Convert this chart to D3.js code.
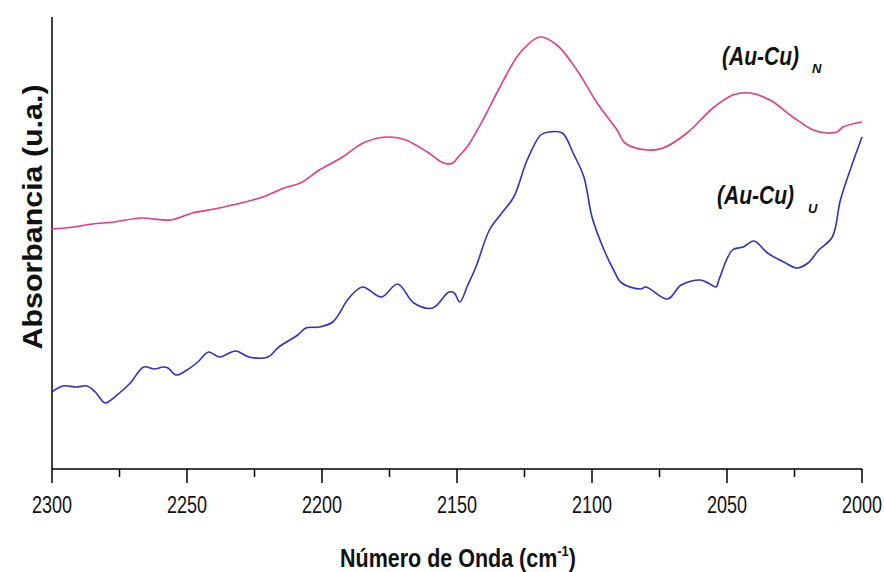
<!DOCTYPE html>
<html><head><meta charset="utf-8">
<script src="https://cdn.jsdelivr.net/npm/d3@7"></script>
<style>
body{margin:0;background:#fff;}
svg{display:block;}
</style></head>
<body>
<svg id="chart" width="884" height="572"></svg>
<script>
// Wavenumbers (cm^-1) and absorbance (arbitrary units)
const wnN = [2300,2292,2285,2277,2267,2256,2248,2240,2230,2222,2214,2208,2201,2193,2184,2175,2169,2161,2155,2151.5,2149.6,2146.3,2140.4,2134.1,2126.7,2119.3,2113,2105.6,2098.1,2090.7,2087.8,2079.6,2073.7,2064.8,2055.2,2047.8,2041.5,2034.1,2025.6,2018.1,2013,2009.3,2007,2000];
const absN = [240,242,245,247,251,249,256,260,266,272,281,286,299,311,327,332,329,317,306,306,312,322,349,382,416,432,424,399,366,339,326,319,321,336,361,374,376,369,352,339,336,337,342,347];
const wnU = [2300,2296,2291,2287,2284,2281,2280,2275,2271,2266,2262,2259,2257,2254,2250,2246,2242,2238,2232,2227,2220,2216,2209,2206,2201,2196,2190,2185,2178,2172,2166,2159,2153,2151,2149,2146,2143,2138,2134,2129,2124,2119,2116,2111,2107,2103,2100,2096,2092,2089,2082,2080,2072,2067,2060,2057,2054,2053,2048,2044,2040,2035,2029,2024,2020,2016,2011,2008,2004,2000];
const absU = [77,83,82,83,77,67,66,76,86,102,100,102,101,94,99,107,117,112,118,112,112,122,134,141,142,147,171,182,172,185,166,161,177,176,167,184,202,239,254,272,309,334,337,336,316,292,252,222,199,186,180,182,170,184,189,186,182,189,219,222,228,216,207,201,206,219,232,269,302,332];
const xMajor = [2300,2250,2200,2150,2100,2050,2000];
const xMinor = [2275,2225,2175,2125,2075,2025];
const seriesNames = ["(Au-Cu)", "(Au-Cu)"];
const seriesSubs = ["N", "U"];
const seriesColors = ["#e23a8a", "#3030c4"];

const svg = d3.select("#chart");
const x = d3.scaleLinear().domain([2300, 2000]).range([52, 862]);
const y = d3.scaleLinear().domain([0, 452]).range([469, 17]);

const font = "'Liberation Sans',Arial,sans-serif";

// Axes
svg.append("line").attr("x1",52).attr("x2",52).attr("y1",17).attr("y2",469)
  .attr("stroke","#000").attr("stroke-width",1.5);
const gx = svg.append("g").attr("transform","translate(0,469)");
gx.append("line").attr("x1",52).attr("x2",862).attr("stroke","#000").attr("stroke-width",1.5);
gx.selectAll(".maj").data(xMajor).join("line")
  .attr("x1",d=>x(d)).attr("x2",d=>x(d)).attr("y1",0).attr("y2",14)
  .attr("stroke","#000").attr("stroke-width",1.5);
gx.selectAll(".min").data(xMinor).join("line")
  .attr("x1",d=>x(d)).attr("x2",d=>x(d)).attr("y1",0).attr("y2",8)
  .attr("stroke","#000").attr("stroke-width",1.5);
gx.selectAll(".lab").data(xMajor).join("text")
  .attr("x",d=>x(d)).attr("y",44)
  .attr("text-anchor","middle")
  .attr("font-family",font).attr("font-size",24)
  .attr("textLength",40).attr("lengthAdjust","spacingAndGlyphs")
  .attr("fill","#111").text(d=>d);

// Axis titles
const xt = svg.append("text").attr("transform","translate(458,567) scale(0.86,1)")
  .attr("text-anchor","middle").attr("font-family",font)
  .attr("font-weight","bold").attr("font-size",25).attr("fill","#111");
xt.append("tspan").text("Número de Onda (cm");
xt.append("tspan").attr("font-size",15).attr("dy",-11).text("-1");
xt.append("tspan").attr("dy",11).text(")");

svg.append("text").attr("transform","translate(42,217) rotate(-90)")
  .attr("text-anchor","middle").attr("font-family",font)
  .attr("font-weight","bold").attr("font-size",28).attr("fill","#111")
  .attr("textLength",265).attr("lengthAdjust","spacingAndGlyphs")
  .text("Absorbancia  (u.a.)");

// Curves
const line = d3.line().x(d=>x(d[0])).y(d=>y(d[1])).curve(d3.curveCatmullRom.alpha(0.5));
const dataN = wnN.map((w,i)=>[w,absN[i]]);
const dataU = wnU.map((w,i)=>[w,absU[i]]);
[dataN, dataU].forEach((d,i)=>{
  svg.append("path").datum(d).attr("d",line).attr("fill","none")
    .attr("stroke",seriesColors[i]).attr("stroke-width",1.6)
    .attr("stroke-linejoin","round");
});

// Labels
const labPos = [[722,65,812,73],[717,204,808,213]];
labPos.forEach((p,i)=>{
  svg.append("text").attr("x",p[0]).attr("y",p[1])
    .attr("font-family",font).attr("font-weight","bold").attr("font-style","italic")
    .attr("font-size",25).attr("fill","#111")
    .attr("textLength",77).attr("lengthAdjust","spacingAndGlyphs")
    .text(seriesNames[i]);
  svg.append("text").attr("x",p[2]).attr("y",p[3])
    .attr("font-family",font).attr("font-weight","bold").attr("font-style","italic")
    .attr("font-size",13).attr("fill","#111").text(seriesSubs[i]);
});
</script>
</body></html>
